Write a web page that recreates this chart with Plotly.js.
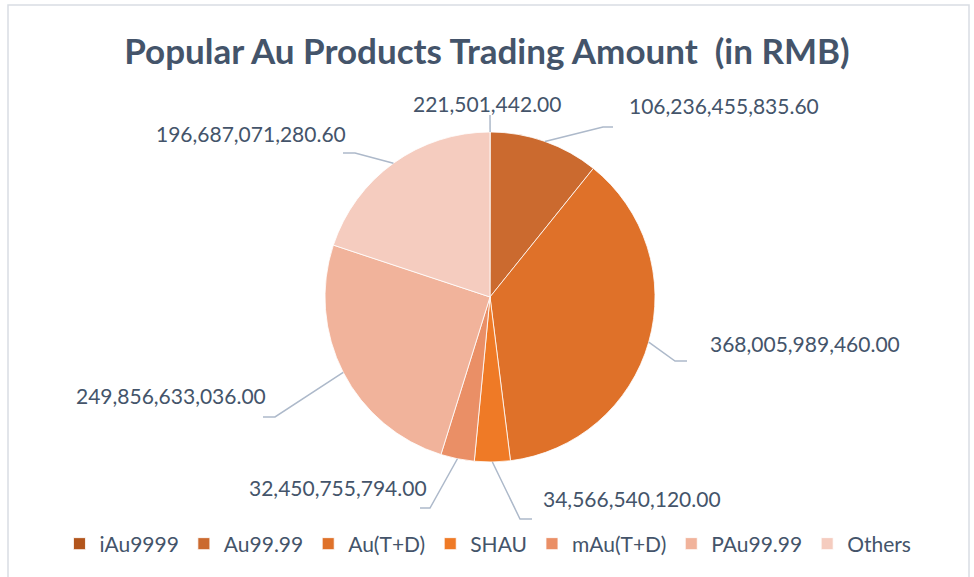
<!DOCTYPE html>
<html>
<head>
<meta charset="utf-8">
<script src="https://cdn.plot.ly/plotly-3.0.1.min.js"></script>
<style>html,body{margin:0;padding:0;background:#fff;}#chart{width:974px;height:577px;}</style>
</head>
<body>
<div id="chart"></div>
<script>
// ---- data ----
const categories = ["iAu9999", "Au99.99", "Au(T+D)", "SHAU", "mAu(T+D)", "PAu99.99", "Others"];
const amounts = [221501442.00, 106236455835.60, 368005989460.00, 34566540120.00, 32450755794.00, 249856633036.00, 196687071280.60];
const labelTexts = ["221,501,442.00", "106,236,455,835.60", "368,005,989,460.00", "34,566,540,120.00", "32,450,755,794.00", "249,856,633,036.00", "196,687,071,280.60"];

// ---- styling / layout ----
const W = 974, H = 577;
const sliceColors = ["#b2551c", "#cb6a2f", "#df7129", "#ef7a26", "#ea8f66", "#f1b39b", "#f5ccbf"];
const textColor = "#44546a";
const leaderColor = "#adb9ca";
const pieCx = 490, pieCy = 297, pieR = 165;
// label placement (pixels): elbow point, end of horizontal tick, text anchor
const placement = [
  {ex: 490, ey: 115, hx: 490, tx: 487, ty: 103, anchor: "center"},
  {ex: 603, ey: 127, hx: 613, tx: 627, ty: 105, anchor: "left"},
  {ex: 675, ey: 361, hx: 687, tx: 708, ty: 343, anchor: "left"},
  {ex: 520, ey: 519, hx: 532, tx: 541, ty: 498, anchor: "left"},
  {ex: 430, ey: 508, hx: 420, tx: 429, ty: 487, anchor: "right"},
  {ex: 275, ey: 417, hx: 263, tx: 268, ty: 395, anchor: "right"},
  {ex: 355, ey: 153, hx: 343, tx: 348, ty: 133, anchor: "right"}
];
const px = x => x / W;
const py = y => 1 - y / H;

const total = amounts.reduce((a, b) => a + b, 0);
let cum = 0;
const shapes = [];
const annotations = [];
amounts.forEach((v, i) => {
  const mid = (cum + v / 2) / total * 2 * Math.PI;
  cum += v;
  const sx = pieCx + pieR * Math.sin(mid);
  const sy = pieCy - pieR * Math.cos(mid);
  const p = placement[i];
  shapes.push({
    type: "path", xref: "paper", yref: "paper",
    path: `M ${px(sx)} ${py(sy)} L ${px(p.ex)} ${py(p.ey)} L ${px(p.hx)} ${py(p.ey)}`,
    line: {color: leaderColor, width: 1.5}
  });
  annotations.push({
    xref: "paper", yref: "paper", x: px(p.tx), y: py(p.ty),
    xanchor: p.anchor, yanchor: "middle", showarrow: false,
    text: labelTexts[i],
    font: {family: "Lato, 'Open Sans', sans-serif", size: 21, color: textColor}
  });
});
// chart border
shapes.push({type: "rect", xref: "paper", yref: "paper", x0: px(8), x1: px(969), y0: py(582), y1: py(5),
  line: {color: "#d9dde3", width: 1.5}, layer: "below"});

const trace = {
  type: "pie",
  labels: categories,
  values: amounts,
  sort: false,
  direction: "clockwise",
  rotation: 0,
  textinfo: "none",
  hoverinfo: "label+value+percent",
  marker: {colors: sliceColors, line: {color: "#ffffff", width: 0.8}},
  domain: {x: [px(pieCx - pieR), px(pieCx + pieR)], y: [py(pieCy + pieR), py(pieCy - pieR)]}
};

const layout = {
  width: W, height: H,
  margin: {l: 0, r: 0, t: 0, b: 0},
  paper_bgcolor: "#ffffff",
  title: {
    text: "<b>Popular Au Products Trading Amount  (in RMB)</b>",
    x: 0.5, xanchor: "center", y: py(52), yanchor: "middle", xref: "paper", yref: "paper",
    font: {family: "Lato, 'Open Sans', sans-serif", size: 35, color: textColor}
  },
  showlegend: true,
  legend: {
    orientation: "h", x: 0.501, xanchor: "center", y: py(544), yanchor: "middle",
    font: {family: "Lato, 'Open Sans', sans-serif", size: 21, color: textColor},
    itemwidth: 30, traceorder: "normal"
  },
  shapes: shapes,
  annotations: annotations
};

Plotly.newPlot("chart", [trace], layout, {displayModeBar: false, staticPlot: true});
</script>
</body>
</html>
